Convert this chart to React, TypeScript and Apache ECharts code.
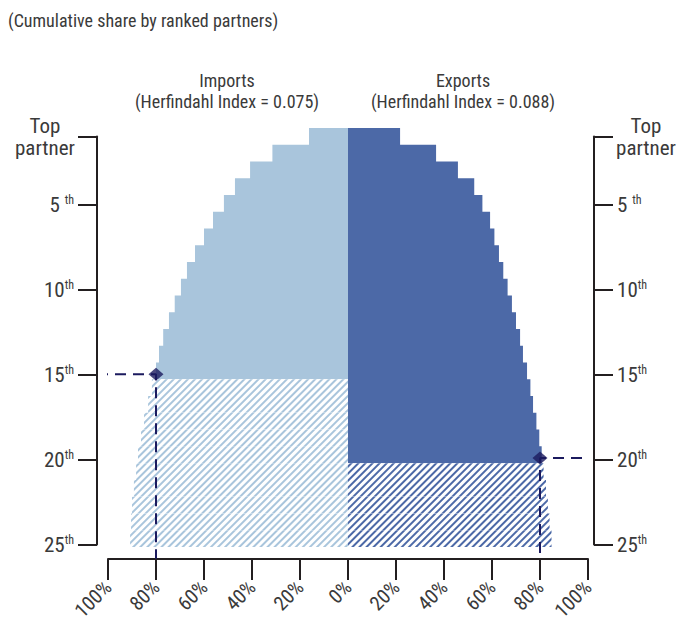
import React, { useEffect, useRef } from "react";
import * as echarts from "echarts";

// ---------- data ----------
const ranks = [1, 2, 3, 4, 5, 6, 7, 8, 9, 10, 11, 12, 13, 14, 15, 16, 17, 18, 19, 20, 21, 22, 23, 24, 25];
const importsShare = [
  0.1625, 0.315, 0.408, 0.471, 0.517, 0.5625, 0.6, 0.6375, 0.671, 0.696, 0.722, 0.746, 0.77, 0.7875, 0.8,
  0.817, 0.833, 0.85, 0.8625, 0.875, 0.883, 0.892, 0.9, 0.904, 0.908,
];
const exportsShare = [
  0.217, 0.367, 0.458, 0.526, 0.56, 0.592, 0.61, 0.629, 0.647, 0.665, 0.683, 0.7, 0.717, 0.729, 0.746,
  0.76, 0.771, 0.785, 0.797, 0.807, 0.815, 0.825, 0.833, 0.84, 0.848,
];
const importsSolidThrough = 15;
const exportsSolidThrough = 20;
const rankTickValues = [1, 5, 10, 15, 20, 25];
const shareMin = -1;
const shareMax = 1;
const shareInterval = 0.2;
const importsMarker = [-0.8, 15.2];
const exportsMarker = [0.8, 20.2];
const titleText = "(Cumulative share by ranked partners)";
const importsHeader = ["Imports", "(Herfindahl Index = 0.075)"];
const exportsHeader = ["Exports", "(Herfindahl Index = 0.088)"];

// ---------- layout / style ----------
const W = 679;
const H = 623;
const GRID_LEFT = 108;
const GRID_WIDTH = 480;
const GRID_TOP = 128;
const BAND = 17;
const GRID_HEIGHT = BAND * ranks.length;
const X_AXIS_OFFSET = 12;
const LEFT_AXIS_OFFSET = 11;
const RIGHT_AXIS_OFFSET = 12;

const FONT = "'Liberation Sans Narrow', 'Arial Narrow', 'Roboto Condensed', 'DejaVu Sans Condensed', sans-serif";
const LIGHT = "#a9c5dc";
const DARK = "#4c69a7";
const NAVY = "#1b1a5e";
const AXIS = "#231f20";
const TEXT = "#3a3a3a";

const hatch = (color: string) => ({
  symbol: "rect",
  symbolSize: 1,
  dashArrayX: [1, 0],
  dashArrayY: [2, 3],
  rotation: -Math.PI / 4,
  color,
});

const rankLabel = (v: number) => {
  if (v === 1) return "{c|Top}\n{c|partner}";
  if (v === 5) return "{n|5} {s|th}";
  return `{n|${v}}{s|th}`;
};

const rich = {
  c: { fontSize: 21, width: 58, align: "center", lineHeight: 22, color: TEXT, fontFamily: FONT },
  n: { fontSize: 21, lineHeight: 22, color: TEXT, fontFamily: FONT },
  s: { fontSize: 12, lineHeight: 12, verticalAlign: "top", color: TEXT, fontFamily: FONT },
};

const rankAxis = (position: "left" | "right", offset: number) => ({
  type: "value",
  gridIndex: 1,
  position,
  offset,
  min: ranks[0],
  max: ranks[ranks.length - 1],
  inverse: true,
  axisLine: { show: true, onZero: false, lineStyle: { color: AXIS, width: 2 } },
  axisTick: { show: true, customValues: rankTickValues, length: 19, lineStyle: { color: AXIS, width: 2 } },
  axisLabel: {
    customValues: rankTickValues,
    formatter: rankLabel,
    margin: 23,
    rich,
    color: TEXT,
    fontFamily: FONT,
    fontSize: 21,
  },
  splitLine: { show: false },
});

const halfW = GRID_WIDTH / (shareMax - shareMin);
const leftAxisX = shareMin - LEFT_AXIS_OFFSET / halfW;
const rightAxisX = shareMax + RIGHT_AXIS_OFFSET / halfW;
const rankLo = ranks[0] - 0.5;
const rankHi = ranks[ranks.length - 1] + 0.5;
const bottomAxisY = rankHi + X_AXIS_OFFSET / BAND;

const barBase = {
  type: "bar",
  xAxisIndex: 0,
  yAxisIndex: 0,
  barCategoryGap: "0%",
  barGap: "-100%",
};

// solid staircase drawn as one polygon (no seams between rows)
const staircase = (name: string, shares: number[], sign: number, through: number, color: string) => ({
  type: "custom",
  name,
  xAxisIndex: 0,
  yAxisIndex: 1,
  z: 2,
  data: [[0, ranks[0]]],
  renderItem: (_params: any, api: any) => {
    const rows = ranks.map((r, i) => ({ r, s: sign * shares[i] })).filter((d) => d.r <= through);
    const pts: number[][] = [api.coord([0, rows[0].r - 0.5])];
    rows.forEach((d) => {
      pts.push(api.coord([d.s, d.r - 0.5]));
      pts.push(api.coord([d.s, d.r + 0.5]));
    });
    pts.push(api.coord([0, rows[rows.length - 1].r + 0.5]));
    return { type: "polygon", shape: { points: pts }, style: { fill: color } };
  },
});

const headerText = (text: string, x: number, y: number) => ({
  type: "text",
  x,
  y,
  style: { text, fill: TEXT, fontSize: 18, fontFamily: FONT, align: "center", verticalAlign: "top" },
});

const option = {
  animation: false,
  backgroundColor: "#ffffff",
  graphic: [
    {
      type: "text",
      x: 8,
      y: 11,
      style: { text: titleText, fill: TEXT, fontSize: 18, fontFamily: FONT, align: "left", verticalAlign: "top" },
    },
    headerText(importsHeader[0], 227, 71),
    headerText(importsHeader[1], 227, 92),
    headerText(exportsHeader[0], 463, 71),
    headerText(exportsHeader[1], 463, 92),
  ],
  grid: [
    { left: GRID_LEFT, top: GRID_TOP, width: GRID_WIDTH, height: GRID_HEIGHT, containLabel: false },
    { left: GRID_LEFT, top: GRID_TOP + BAND / 2, width: GRID_WIDTH, height: GRID_HEIGHT - BAND, containLabel: false },
  ],
  xAxis: [
    {
      type: "value",
      gridIndex: 0,
      position: "bottom",
      offset: X_AXIS_OFFSET,
      min: shareMin,
      max: shareMax,
      interval: shareInterval,
      axisLine: { show: true, onZero: false, lineStyle: { color: AXIS, width: 2 } },
      axisTick: { show: true, length: 21, lineStyle: { color: AXIS, width: 2 } },
      axisLabel: {
        rotate: 45,
        margin: 25,
        color: TEXT,
        fontSize: 20,
        fontFamily: FONT,
        formatter: (v: number) => `${Math.round(Math.abs(v) * 100)}%`,
      },
      splitLine: { show: false },
    },
    { type: "value", gridIndex: 1, min: shareMin, max: shareMax, show: false },
  ],
  yAxis: [
    { type: "category", gridIndex: 0, data: ranks, inverse: true, show: false },
    { type: "value", gridIndex: 0, min: rankLo, max: rankHi, inverse: true, show: false },
    rankAxis("left", LEFT_AXIS_OFFSET),
    rankAxis("right", RIGHT_AXIS_OFFSET),
  ],
  series: [
    staircase("Imports", importsShare, -1, importsSolidThrough, LIGHT),
    {
      ...barBase,
      name: "Imports (rest)",
      itemStyle: { color: "#ffffff", decal: hatch(LIGHT) },
      data: importsShare.map((v, i) => (ranks[i] > importsSolidThrough ? -v : null)),
    },
    staircase("Exports", exportsShare, 1, exportsSolidThrough, DARK),
    {
      ...barBase,
      name: "Exports (rest)",
      itemStyle: { color: "#ffffff", decal: hatch(DARK) },
      data: exportsShare.map((v, i) => (ranks[i] > exportsSolidThrough ? v : null)),
    },
    {
      type: "line",
      xAxisIndex: 0,
      yAxisIndex: 1,
      clip: false,
      symbol: "none",
      z: 5,
      lineStyle: { color: NAVY, width: 2, type: [11, 7] },
      data: [
        [leftAxisX, importsMarker[1]],
        [importsMarker[0], importsMarker[1]],
        [importsMarker[0], bottomAxisY],
      ],
    },
    {
      type: "line",
      xAxisIndex: 0,
      yAxisIndex: 1,
      clip: false,
      symbol: "none",
      z: 5,
      lineStyle: { color: NAVY, width: 2, type: [11, 7] },
      data: [
        [rightAxisX, exportsMarker[1]],
        [exportsMarker[0], exportsMarker[1]],
        [exportsMarker[0], bottomAxisY],
      ],
    },
    {
      type: "scatter",
      xAxisIndex: 0,
      yAxisIndex: 1,
      symbol: "diamond",
      symbolSize: [15, 13],
      z: 6,
      itemStyle: { color: NAVY },
      data: [importsMarker, exportsMarker],
    },
  ],
};

export default function App() {
  const ref = useRef<HTMLDivElement>(null);
  useEffect(() => {
    if (!ref.current) return;
    const chart = echarts.init(ref.current, null, { renderer: "svg" });
    chart.setOption(option as any);
    return () => chart.dispose();
  }, []);
  return (
    <div
      ref={ref}
      style={{ position: "fixed", left: 0, top: 0, width: W, height: H, background: "#ffffff" }}
    />
  );
}
